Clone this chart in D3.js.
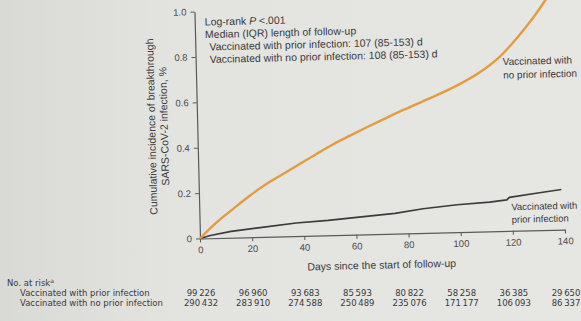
<!DOCTYPE html>
<html><head><meta charset="utf-8">
<script src="https://cdn.jsdelivr.net/npm/d3@7"></script>
<style>
html,body{margin:0;padding:0;background:#e4e4e1;overflow:hidden;}
svg{display:block;font-family:"Liberation Sans",Arial,sans-serif;}
</style></head><body>
<svg id="chart" width="581" height="321"></svg>
<script>
// ---- data ----
const xTicks = [0, 20, 40, 60, 80, 100, 120, 140];
const yTicks = [0, 0.2, 0.4, 0.6, 0.8, 1.0];

const noPriorDays   = [0, 6.6, 13, 19.6, 26.1, 32.6, 39, 45.6, 52, 58.5, 65, 71.4, 77.9, 88.4, 101.2, 109, 116.8, 123.5, 129.8, 134.6, 137];
const noPriorValues = [0, 0.07, 0.127, 0.184, 0.234, 0.276, 0.318, 0.361, 0.401, 0.437, 0.472, 0.505, 0.538, 0.588, 0.653, 0.703, 0.77, 0.85, 0.936, 1.011, 1.05];

const priorDays   = [0, 4, 12, 23.9, 37, 49.3, 63, 75, 85.8, 98.9, 111.4, 118, 119, 130.6, 139];
const priorValues = [0, 0.012, 0.028, 0.042, 0.058, 0.066, 0.079, 0.09, 0.107, 0.121, 0.129, 0.137, 0.148, 0.165, 0.177];

const atRiskDays    = [0, 20, 40, 60, 80, 100, 120, 140];
const atRiskPrior   = [99226, 96960, 93683, 85593, 80822, 58258, 36385, 29650];
const atRiskNoPrior = [290432, 283910, 274588, 250489, 235076, 171177, 106093, 86337];

const rowLabels = ["Vaccinated with prior infection", "Vaccinated with no prior infection"];
const medianLines = ["Vaccinated with prior infection: 107 (85-153) d",
                     "Vaccinated with no prior infection: 108 (85-153) d"];

// ---- drawing ----
const svg = d3.select("#chart");
const W = 581, H = 321;

const defs = svg.append("defs");
const grad = defs.append("linearGradient").attr("id", "bg").attr("x1", 0).attr("x2", 1).attr("y1", 0).attr("y2", 0);
grad.append("stop").attr("offset", "0%").attr("stop-color", "#d9d9d6");
grad.append("stop").attr("offset", "30%").attr("stop-color", "#e3e3e0");
grad.append("stop").attr("offset", "100%").attr("stop-color", "#e6e6e3");
svg.append("rect").attr("width", W).attr("height", H).attr("fill", "url(#bg)");

const x = d3.scaleLinear().domain([0, 140]).range([200, 565]);
const y = d3.scaleLinear().domain([0, 1]).range([238.5, 11.5]);

const txt = "#3a3a3a";
const axisCol = "#5a5a5a";

const g = svg.append("g").attr("transform", "rotate(-1.4,200,238.5)");

const xAxis = d3.axisBottom(x).tickValues(xTicks).tickSize(4).tickPadding(4).tickSizeOuter(0);
const yAxis = d3.axisLeft(y).tickValues(yTicks).tickSize(4).tickPadding(4).tickSizeOuter(0)
  .tickFormat(d => d === 0 ? "0" : d3.format(".1f")(d));

const gx = g.append("g").attr("transform", `translate(0,${y(0)})`).call(xAxis);
const gy = g.append("g").attr("transform", `translate(${x(0)},0)`).call(yAxis);
[gx, gy].forEach(a => {
  a.select(".domain").attr("stroke", axisCol).attr("stroke-width", 1.2);
  a.selectAll(".tick line").attr("stroke", axisCol).attr("stroke-width", 1);
  a.selectAll(".tick text").attr("fill", "#4a4a4a").style("font-size", "9.5px")
    .style("font-family", '"Liberation Sans",Arial,sans-serif');
});

const line = d3.line().x(d => x(d[0])).y(d => y(d[1]));
const smooth = d3.line().x(d => x(d[0])).y(d => y(d[1])).curve(d3.curveMonotoneX);
const noPrior = noPriorDays.map((d, i) => [d, noPriorValues[i]]);
const prior = priorDays.map((d, i) => [d, priorValues[i]]);

g.append("path").datum(prior).attr("d", line)
  .attr("fill", "none").attr("stroke", "#3b3b3b").attr("stroke-width", 1.7).attr("stroke-linejoin", "round");
g.append("path").datum(noPrior).attr("d", smooth)
  .attr("fill", "none").attr("stroke", "#e49c3f").attr("stroke-width", 2.4).attr("stroke-linejoin", "round");

// axis titles
g.append("text").attr("x", 381).attr("y", 273).attr("text-anchor", "middle")
  .attr("fill", txt).style("font-size", "10.5px").text("Days since the start of follow-up");
g.append("text").attr("transform", "translate(158,125.5) rotate(-90)").attr("text-anchor", "middle")
  .attr("fill", txt).style("font-size", "10.5px").text("Cumulative incidence of breakthrough");
g.append("text").attr("transform", "translate(170.5,125.5) rotate(-90)").attr("text-anchor", "middle")
  .attr("fill", txt).style("font-size", "10.5px").text("SARS-CoV-2 infection, %");

// annotation block
const ann = g.append("g").attr("fill", txt).style("font-size", "10.5px");
const lr = ann.append("text").attr("x", 210).attr("y", 25.8);
lr.append("tspan").text("Log-rank ");
lr.append("tspan").style("font-style", "italic").text("P");
lr.append("tspan").text(" <.001");
ann.append("text").attr("x", 210).attr("y", 38.3).text("Median (IQR) length of follow-up");
ann.selectAll("text.med").data(medianLines).join("text").attr("class", "med")
  .attr("x", 214).attr("y", (d, i) => 50.8 + i * 12.5).text(d => d);

// series labels
const sl = g.append("g").attr("fill", txt).style("font-size", "10px");
sl.append("text").attr("x", 507).attr("y", 72.5).text("Vaccinated with");
sl.append("text").attr("x", 507).attr("y", 86).text("no prior infection");
const sl2 = g.append("g").attr("fill", txt).style("font-size", "9.5px");
sl2.append("text").attr("x", 512).attr("y", 217.8).text("Vaccinated with");
sl2.append("text").attr("x", 512).attr("y", 230.5).text("prior infection");

// number at risk table (flat)
const fmt = d3.formatLocale({decimal: ".", thousands: "\u2009", grouping: [3], currency: ["", ""]}).format(",");
const tb = svg.append("g").attr("fill", txt).style("font-size", "8.5px")
  .style("font-family", '"DejaVu Sans",sans-serif');
const nr = tb.append("text").attr("x", 7).attr("y", 285.5);
nr.append("tspan").text("No. at risk");
nr.append("tspan").attr("dy", -3).style("font-size", "6px").text("a");
const rowY = [295.5, 305.5];
rowLabels.forEach((lab, i) => tb.append("text").attr("x", 20).attr("y", rowY[i]).text(lab));
[atRiskPrior, atRiskNoPrior].forEach((row, i) => {
  tb.selectAll(`text.r${i}`).data(row).join("text").attr("class", `r${i}`)
    .attr("x", (d, j) => x(atRiskDays[j]) + 1).attr("y", rowY[i])
    .attr("text-anchor", "middle").text(d => fmt(d));
});
</script>
</body></html>
